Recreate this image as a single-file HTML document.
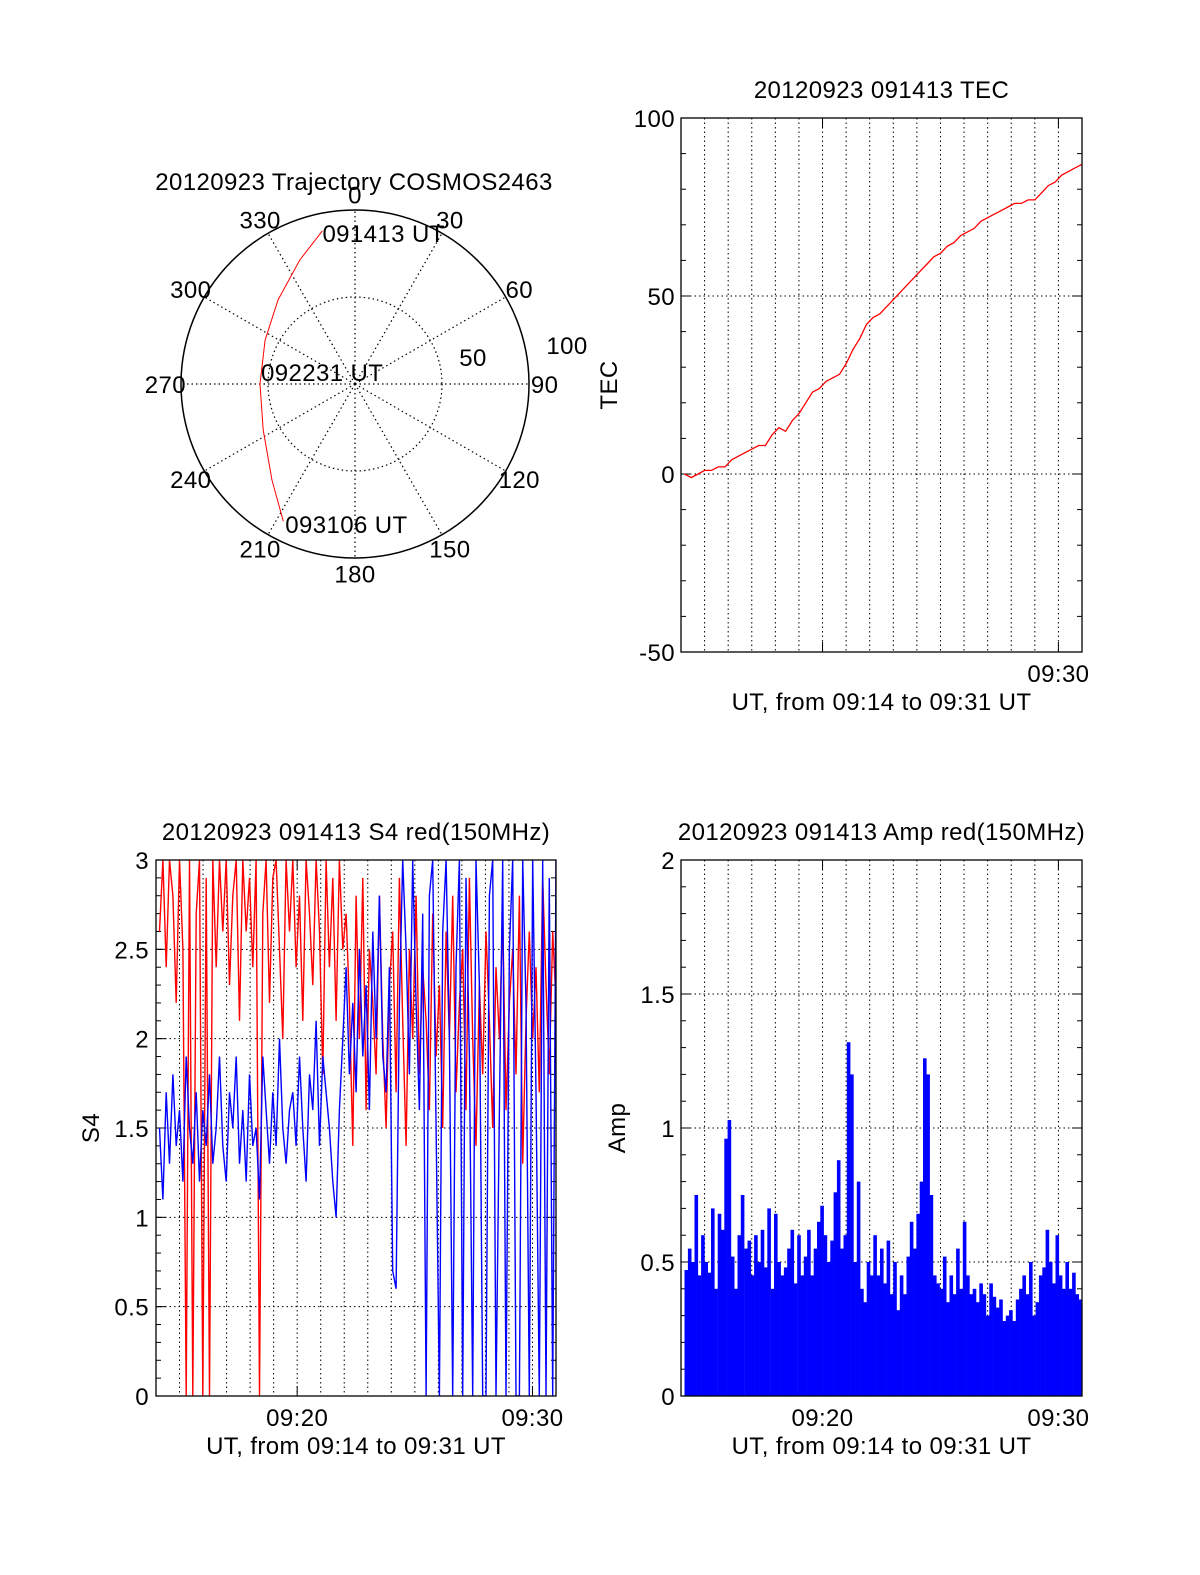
<!DOCTYPE html>
<html><head><meta charset="utf-8"><style>
html,body{margin:0;padding:0;background:#fff}
svg{display:block}
text{font-family:"Liberation Sans",sans-serif;font-size:24px;letter-spacing:0.4px;fill:#000}
</style></head><body>
<svg id="fig" width="1200" height="1575" viewBox="0 0 1200 1575" xmlns="http://www.w3.org/2000/svg">
<rect width="1200" height="1575" fill="#fff"/>
<g id="polar"></g>
<g id="tec"></g>
<g id="s4"></g>
<g id="amp"></g>
</svg>
<script>
// ---- data ----
const trajAz = [348, 336, 317.5, 296, 270, 243.4, 220.8, 207.6];
const trajZen = [90, 78, 65.5, 57.5, 54.6, 59, 73, 89];
const trajLabels = ["091413 UT", "092231 UT", "093106 UT"];
const polarAngles = [0,30,60,90,120,150,180,210,240,270,300,330];

const tecValues = [0,-1,0,1,1,2,2,4,5,6,7,8,8,11,13,12,15,17,20,23,24,26,27,28,31,35,38,42,44,45,47,49,51,53,55,57,59,61,62,64,65,67,68,69,71,72,73,74,75,76,76,77,77,79,81,82,84,85,86,87];
const tecTicks = [-50, 0, 50, 100];

const s4Blue = [1.5,1.1,1.7,1.3,1.8,1.4,1.6,1.2,1.9,1.5,1.3,1.7,1.2,1.6,1.4,1.8,1.3,1.5,1.9,1.4,
1.2,1.7,1.5,1.9,1.3,1.6,1.2,1.8,1.4,1.5,1.1,1.9,1.6,1.3,1.7,1.4,2.0,1.5,1.3,1.6,
1.7,1.4,1.9,1.5,1.2,1.8,1.6,2.1,1.4,1.9,1.7,1.5,1.2,1.0,1.6,2.0,2.4,1.8,2.2,1.7,
2.5,1.9,2.3,1.6,2.6,2.0,2.8,1.9,1.7,2.4,0.7,0.6,2.2,3.0,2.5,1.8,3.0,2.2,1.6,2.7,
0,2.8,3.0,1.5,0,2.6,3.0,2.0,0,2.4,3.0,0,2.9,1.9,0,3.0,2.3,0,0,2.8,
3.0,0,1.6,3.0,0,2.5,3.0,0,0,3.0,2.2,0,3.0,1.7,0,3.0,0,2.9,0,3.0];
const s4Red = [2.6,3.0,2.4,3.0,2.8,2.2,3.0,2.5,0,3.0,0,2.7,3.0,0,2.9,0,3.0,2.4,3.0,2.6,
3.0,2.3,2.8,3.0,2.1,3.0,2.6,2.9,2.4,3.0,0,2.7,3.0,2.2,2.9,3.0,2.5,2.0,3.0,2.6,
3.0,2.4,2.8,2.1,3.0,2.7,2.3,3.0,2.6,1.8,3.0,2.4,2.9,2.1,3.0,2.5,2.7,2.2,1.4,2.8,
2.0,2.9,1.6,2.5,2.2,1.8,2.8,2.0,1.5,2.3,2.6,1.7,2.9,2.1,1.4,2.5,2.0,2.8,1.8,2.4,
2.1,1.6,2.7,1.9,2.3,1.5,2.6,2.0,2.8,1.7,2.2,2.5,1.6,2.9,2.0,1.4,2.3,1.8,2.6,2.1,
1.5,2.4,2.0,2.7,1.6,2.2,2.5,1.8,2.8,1.3,2.1,2.6,2.0,2.4,1.7,2.9,2.3,1.8,2.6,2.2];
const s4Ticks = [0, 0.5, 1, 1.5, 2, 2.5, 3];

const ampValues = [0.47,0.55,0.5,0.75,0.45,0.6,0.5,
0.46,0.7,0.4,0.68,0.62,0.96,1.03,0.52,0.4,0.6,
0.75,0.55,0.58,0.45,0.6,0.5,0.62,0.48,0.7,0.4,
0.68,0.5,0.45,0.48,0.55,0.62,0.42,0.6,0.45,0.52,
0.62,0.45,0.55,0.65,0.71,0.6,0.5,0.58,0.76,0.88,
0.55,0.6,1.32,1.2,0.5,0.8,0.4,0.35,0.5,0.45,
0.6,0.45,0.55,0.42,0.58,0.38,0.5,0.32,0.45,0.38,
0.52,0.65,0.55,0.68,0.8,1.26,1.2,0.75,0.45,0.42,
0.4,0.52,0.35,0.45,0.38,0.55,0.4,0.65,0.45,0.38,
0.4,0.35,0.42,0.38,0.3,0.42,0.37,0.33,0.36,0.28,
0.3,0.32,0.28,0.36,0.4,0.45,0.38,0.5,0.3,0.35,
0.45,0.48,0.62,0.5,0.42,0.6,0.45,0.4,0.5,0.4,0.46,0.38,0.36];
const ampTicks = [0, 0.5, 1, 1.5, 2];
const timeTickLabels = ["09:20", "09:30"];
const timeTickMinutes = [20, 30];

const NS = "http://www.w3.org/2000/svg";
function el(parent, tag, attrs, txt) {
  const e = document.createElementNS(NS, tag);
  for (const k in attrs) e.setAttribute(k, attrs[k]);
  if (txt !== undefined) e.textContent = txt;
  parent.appendChild(e);
  return e;
}

// ---- polar ----
(function () {
  const g = document.getElementById('polar');
  const cx = 355, cy = 384, R = 174;
  const rr = z => z / 100 * R;
  const pt = (az, z) => [cx + rr(z) * Math.sin(az * Math.PI / 180), cy - rr(z) * Math.cos(az * Math.PI / 180)];
  polarAngles.forEach(a => {
    const [x, y] = pt(a, 100);
    const s = el(g, 'line', {x1: cx, y1: cy, x2: x, y2: y, stroke: '#000', 'stroke-width': 1.2, 'stroke-dasharray': '1.5 3'});
    
    
    const [lx, ly] = pt(a, 109);
    const t = el(g, 'text', {x: lx, y: ly + 9, 'text-anchor': 'middle'}, String(a));
    
    
  });
  const inner = el(g, 'circle', {cx, cy, r: rr(50), fill: 'none', stroke: '#000', 'stroke-width': 1.2, 'stroke-dasharray': '1.5 3'});
  
  
  const outer = el(g, 'circle', {cx, cy, r: R, fill: 'none', stroke: '#000', 'stroke-width': 1.5});
  
  
  const t1 = el(g, 'text', {x: 567, y: 354, 'text-anchor': 'middle'}, '100');
  
  
  const t2 = el(g, 'text', {x: 473, y: 366, 'text-anchor': 'middle'}, '50');
  
  
  const d = trajAz.map((a, i) => { const [x, y] = pt(a, trajZen[i]); return x.toFixed(1) + ',' + y.toFixed(1); }).join(' ');
  const tr = el(g, 'polyline', {points: d, fill: 'none', stroke: '#f00', 'stroke-width': 1});
  
  
  const idx = [0, 4, trajAz.length - 1];
  const off = [[0, 11], [1, -3], [2, 12]];
  idx.forEach((k, j) => {
    const [x, y] = pt(trajAz[k], trajZen[k]);
    const t = el(g, 'text', {x: x + off[j][0], y: y + off[j][1]}, trajLabels[j]);
    
    
  });
  const tt = el(g, 'text', {x: 354, y: 190, 'text-anchor': 'middle'}, '20120923 Trajectory COSMOS2463');
  
  
})();

// ---- generic panel ----
function panel(id, L, T, W, H, ymin, ymax, yticks, minorStep, title, ylab, ylabX, tickRight) {
  const g = document.getElementById(id);
  const x0 = 14, x1 = 31;
  const sx = m => L + (m - x0) / (x1 - x0) * W;
  const sy = v => T + H - (v - ymin) / (ymax - ymin) * H;
  for (let m = 15; m <= 30; m++) {
    const gl = el(g, 'line', {x1: sx(m), y1: T, x2: sx(m), y2: T + H, stroke: '#000', 'stroke-width': 1, 'stroke-dasharray': '1.5 3'});
    
    
  }
  yticks.forEach(v => {
    if (v > ymin && v < ymax) {
      const gl = el(g, 'line', {x1: L, y1: sy(v), x2: L + W, y2: sy(v), stroke: '#000', 'stroke-width': 1, 'stroke-dasharray': '1.5 3'});
      
      
    }
    const t = el(g, 'text', {x: tickRight, y: sy(v) + 9, 'text-anchor': 'end'}, String(v));
    
    
    el(g, 'line', {x1: L, y1: sy(v), x2: L + 10, y2: sy(v), stroke: '#000'});
    el(g, 'line', {x1: L + W - 10, y1: sy(v), x2: L + W, y2: sy(v), stroke: '#000'});
  });
  for (let v = ymin; v <= ymax + 1e-9; v += minorStep) {
    el(g, 'line', {x1: L, y1: sy(v), x2: L + 5, y2: sy(v), stroke: '#000'});
    el(g, 'line', {x1: L + W - 5, y1: sy(v), x2: L + W, y2: sy(v), stroke: '#000'});
  }
  timeTickMinutes.forEach((m, i) => {
    if (id !== 'tec' || m === 30) {
      const t = el(g, 'text', {x: sx(m), y: T + H + 30, 'text-anchor': 'middle'}, timeTickLabels[i]);
      
      
    }
    el(g, 'line', {x1: sx(m), y1: T + H, x2: sx(m), y2: T + H - 10, stroke: '#000'});
    el(g, 'line', {x1: sx(m), y1: T, x2: sx(m), y2: T + 10, stroke: '#000'});
  });
  const xt = el(g, 'text', {x: L + W / 2, y: T + H + 58, 'text-anchor': 'middle'}, 'UT, from 09:14 to 09:31 UT');
  
  
  const tt = el(g, 'text', {x: L + W / 2, y: T - 20, 'text-anchor': 'middle'}, title);
  
  
  const yl = el(g, 'text', {x: ylabX, y: T + H / 2, 'text-anchor': 'middle', transform: `rotate(-90 ${ylabX} ${T + H / 2})`}, ylab);
  
  
  return {g, sx, sy, L, T, W, H};
}
function frame(p) {
  const f = el(p.g, 'rect', {x: p.L, y: p.T, width: p.W, height: p.H, fill: 'none', stroke: '#000', 'stroke-width': 1.3});
  
  
}
const tStart = 14.15, tEnd = 31;

// TEC
(function () {
  const p = panel('tec', 681, 118, 401, 534, -50, 100, tecTicks, 10, '20120923 091413 TEC', 'TEC', 617, 675);
  const n = tecValues.length;
  const pts = tecValues.map((v, i) => p.sx(tStart + i * (tEnd - tStart) / (n - 1)).toFixed(1) + ',' + p.sy(v).toFixed(1)).join(' ');
  const l = el(p.g, 'polyline', {points: pts, fill: 'none', stroke: '#f00', 'stroke-width': 1.3});
  
  
  frame(p);
})();

// S4
(function () {
  const p = panel('s4', 156, 860, 400, 536, 0, 3, s4Ticks, 0.1, '20120923 091413 S4 red(150MHz)', 'S4', 99, 149);
  const clip = el(p.g, 'clipPath', {id: 's4clip'});
  el(clip, 'rect', {x: p.L, y: p.T, width: p.W, height: p.H});
  [[s4Red, '#f00', 's4-red-line'], [s4Blue, '#00f', 's4-blue-line']].forEach(([arr, c, nm]) => {
    const n = arr.length;
    const pts = arr.map((v, i) => p.sx(tStart + i * (tEnd - tStart) / (n - 1)).toFixed(1) + ',' + p.sy(v).toFixed(1)).join(' ');
    const l = el(p.g, 'polyline', {points: pts, fill: 'none', stroke: c, 'stroke-width': 1.4, 'clip-path': 'url(#s4clip)'});
    
    
  });
  frame(p);
})();

// Amp
(function () {
  const p = panel('amp', 681, 860, 401, 536, 0, 2, ampTicks, 0.1, '20120923 091413 Amp red(150MHz)', 'Amp', 625, 675);
  const n = ampValues.length;
  const step = (tEnd - tStart) / n;
  ampValues.forEach((v, i) => {
    const xa = p.sx(tStart + i * step), xb = p.sx(tStart + (i + 1) * step);
    const r = el(p.g, 'rect', {x: xa.toFixed(1), y: p.sy(v).toFixed(1), width: (xb - xa + 0.3).toFixed(1), height: (p.sy(0) - p.sy(v)).toFixed(1), fill: '#00f'});
    
    
  });
  frame(p);
})();
</script>
</body></html>
